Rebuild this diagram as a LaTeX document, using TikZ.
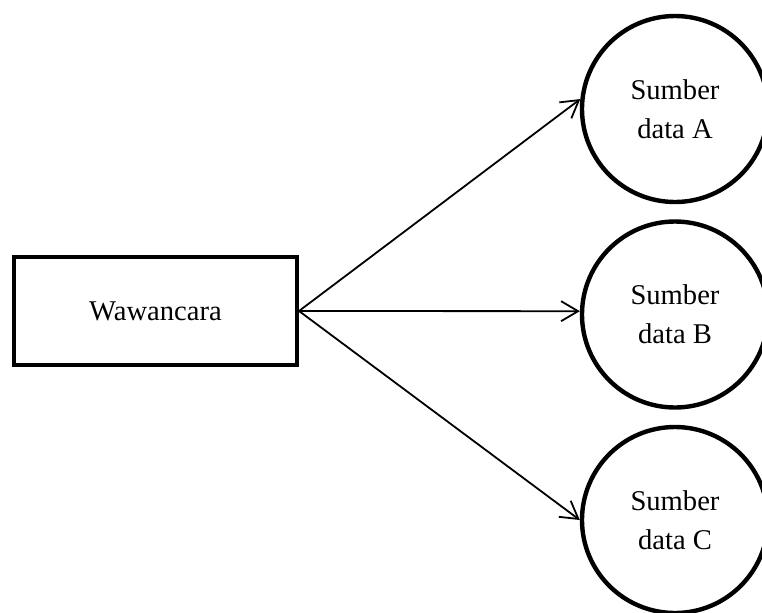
\documentclass[tikz,border=0pt]{standalone}
\usepackage{fontspec}
\setmainfont{Liberation Serif}
\usepackage{tikz}
\usetikzlibrary{arrows.meta}
\tikzset{every node/.append style={font=\fontsize{14.3}{19.5}\selectfont}}

\begin{document}
\begin{tikzpicture}[x=0.5pt, y=-0.5pt, >={Straight Barb[length=8.5pt,width=10pt]},
    kotak/.style={draw, line width=2pt, minimum width=141.5pt, minimum height=54pt, inner sep=0pt},
    sumber/.style={draw, circle, line width=2.2pt, minimum size=93pt, inner sep=0pt, align=center},
    panah/.style={->, line width=0.9pt}]
    \useasboundingbox (0,0) rectangle (762,612);
    \clip (0,0) rectangle (762,612);
    \node[kotak] (wawancara) at (155.5,311) {Wawancara};
    \node[sumber] (sumberA) at (675,109) {Sumber\\data A};
    \node[sumber] (sumberB) at (675,314.5) {Sumber\\data B};
    \node[sumber] (sumberC) at (675,520) {Sumber\\data C};
    \draw[panah] (wawancara.east) -- (sumberA.174);
    \draw[panah] (wawancara.east) -- (sumberB.178);
    \draw[panah] (wawancara.east) -- (sumberC.west);
\end{tikzpicture}
\end{document}
